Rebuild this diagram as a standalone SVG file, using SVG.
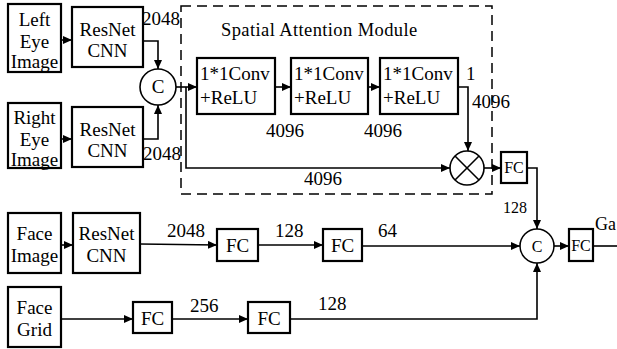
<svg xmlns="http://www.w3.org/2000/svg" width="617" height="349" viewBox="0 0 617 349">
<defs>
<marker id="ah" markerWidth="9" markerHeight="8" refX="9" refY="4" orient="auto" markerUnits="userSpaceOnUse">
<path d="M0,0 L9,4 L0,8 Z" fill="#000"/>
</marker>
<style>
.box{fill:#fff;stroke:#000;stroke-width:2.2}
.cir{fill:#fff;stroke:#000;stroke-width:1.6}
.t{font-family:"Liberation Serif","Times New Roman",serif;font-size:19px;fill:#000}
.s{font-family:"Liberation Serif","Times New Roman",serif;font-size:16px;fill:#000}
.c{fill:none;stroke:#000;stroke-width:1.6}
.ca{fill:none;stroke:#000;stroke-width:1.6;marker-end:url(#ah)}
</style>
</defs>
<rect width="617" height="349" fill="#fff"/>
<g id="attention-module">
<rect x="181" y="6" width="311" height="188" fill="none" stroke="#000" stroke-width="1.5" stroke-dasharray="10,6"/>
<text class="t" x="221" y="36" style="font-size:18.5px;letter-spacing:0.4px">Spatial Attention Module</text>
</g>
<g id="connectors">
<line class="ca" x1="61" y1="40" x2="72" y2="40"/>
<line class="ca" x1="61" y1="139" x2="72" y2="139"/>
<polyline class="ca" points="143,41 158,41 158,69"/>
<polyline class="ca" points="143,139 158,139 158,105"/>
<line class="ca" x1="176" y1="87" x2="197" y2="87"/>
<polyline class="ca" points="186,87 186,168 450,168"/>
<line class="ca" x1="275" y1="87" x2="291" y2="87"/>
<line class="ca" x1="368" y1="87" x2="380" y2="87"/>
<polyline class="ca" points="458,87 468,87 468,151"/>
<line class="ca" x1="484" y1="168" x2="501" y2="168"/>
<polyline class="ca" points="527,168 537,168 537,229"/>
<line class="ca" x1="61" y1="245" x2="73" y2="245"/>
<line class="ca" x1="140" y1="244" x2="217" y2="245"/>
<line class="ca" x1="258" y1="245" x2="323" y2="245"/>
<line class="ca" x1="362" y1="246" x2="520" y2="246"/>
<line class="ca" x1="61" y1="319" x2="133" y2="319"/>
<line class="ca" x1="172" y1="319" x2="248" y2="319"/>
<polyline class="ca" points="290,319 537,319 537,263"/>
<line class="ca" x1="554" y1="246" x2="569" y2="246"/>
<line class="c" x1="593" y1="246" x2="617" y2="246"/>
<text class="t" x="142" y="25">2048</text>
<text class="t" x="143" y="160">2048</text>
<text class="t" x="266" y="137">4096</text>
<text class="t" x="364" y="137">4096</text>
<text class="t" x="466" y="80">1</text>
<text class="t" x="472" y="108">4096</text>
<text class="t" x="304" y="185">4096</text>
<text class="s" x="503" y="213">128</text>
<text class="t" x="167" y="237">2048</text>
<text class="t" x="275" y="237">128</text>
<text class="t" x="378" y="237">64</text>
<text class="t" x="190" y="312">256</text>
<text class="t" x="318" y="310">128</text>
<text class="t" x="595" y="230" style="font-size:18px">Ga</text>
</g>
<g id="left-eye">
<rect class="box" x="8" y="4" width="53" height="68"/>
<text class="t" x="34.5" y="26" text-anchor="middle">Left</text>
<text class="t" x="34.5" y="48" text-anchor="middle">Eye</text>
<text class="t" x="34.5" y="68" text-anchor="middle">Image</text>
</g>
<g id="right-eye">
<rect class="box" x="8" y="103" width="53" height="65"/>
<text class="t" x="34.5" y="124" text-anchor="middle">Right</text>
<text class="t" x="34.5" y="146" text-anchor="middle">Eye</text>
<text class="t" x="34.5" y="166" text-anchor="middle">Image</text>
</g>
<g id="resnet-left">
<rect class="box" x="72" y="7" width="71" height="60"/>
<text class="t" x="107.5" y="36" text-anchor="middle">ResNet</text>
<text class="t" x="107.5" y="57" text-anchor="middle">CNN</text>
</g>
<g id="resnet-right">
<rect class="box" x="72" y="107" width="71" height="60"/>
<text class="t" x="107.5" y="136" text-anchor="middle">ResNet</text>
<text class="t" x="107.5" y="157" text-anchor="middle">CNN</text>
</g>
<g id="concat-eyes">
<circle class="cir" cx="158" cy="87" r="18"/>
<text class="t" x="158" y="93" text-anchor="middle">C</text>
</g>
<g id="conv1">
<rect class="box" x="197" y="58" width="78" height="56"/>
<text class="t" x="200" y="80">1*1Conv</text>
<text class="t" x="200" y="104">+ReLU</text>
</g>
<g id="conv2">
<rect class="box" x="291" y="58" width="77" height="56"/>
<text class="t" x="294" y="80">1*1Conv</text>
<text class="t" x="294" y="104">+ReLU</text>
</g>
<g id="conv3">
<rect class="box" x="380" y="58" width="78" height="56"/>
<text class="t" x="383" y="80">1*1Conv</text>
<text class="t" x="383" y="104">+ReLU</text>
</g>
<g id="multiply">
<circle class="cir" cx="467" cy="168" r="17"/>
<line class="c" x1="455" y1="156" x2="479" y2="180"/>
<line class="c" x1="479" y1="156" x2="455" y2="180"/>
</g>
<g id="fc-eyes">
<rect class="box" x="501" y="152" width="26" height="31"/>
<text class="s" x="514" y="173" text-anchor="middle">FC</text>
</g>
<g id="face-image">
<rect class="box" x="8" y="213" width="53" height="60"/>
<text class="t" x="34.5" y="240" text-anchor="middle">Face</text>
<text class="t" x="34.5" y="262" text-anchor="middle">Image</text>
</g>
<g id="resnet-face">
<rect class="box" x="73" y="213" width="67" height="60"/>
<text class="t" x="106.5" y="240" text-anchor="middle">ResNet</text>
<text class="t" x="106.5" y="262" text-anchor="middle">CNN</text>
</g>
<g id="fc-face1">
<rect class="box" x="217" y="229" width="41" height="32"/>
<text class="t" x="237.5" y="252" text-anchor="middle">FC</text>
</g>
<g id="fc-face2">
<rect class="box" x="323" y="229" width="39" height="32"/>
<text class="t" x="342.5" y="252" text-anchor="middle">FC</text>
</g>
<g id="face-grid">
<rect class="box" x="8" y="287" width="53" height="60"/>
<text class="t" x="34.5" y="314" text-anchor="middle">Face</text>
<text class="t" x="34.5" y="336" text-anchor="middle">Grid</text>
</g>
<g id="fc-grid1">
<rect class="box" x="133" y="302" width="39" height="31"/>
<text class="t" x="152.5" y="325" text-anchor="middle">FC</text>
</g>
<g id="fc-grid2">
<rect class="box" x="248" y="302" width="42" height="31"/>
<text class="t" x="269" y="325" text-anchor="middle">FC</text>
</g>
<g id="concat-all">
<circle class="cir" cx="537" cy="246" r="17"/>
<text class="s" x="537" y="252" text-anchor="middle">C</text>
</g>
<g id="fc-out">
<rect class="box" x="569" y="229" width="24" height="32"/>
<text class="s" x="581" y="251" text-anchor="middle">FC</text>
</g>
</svg>
